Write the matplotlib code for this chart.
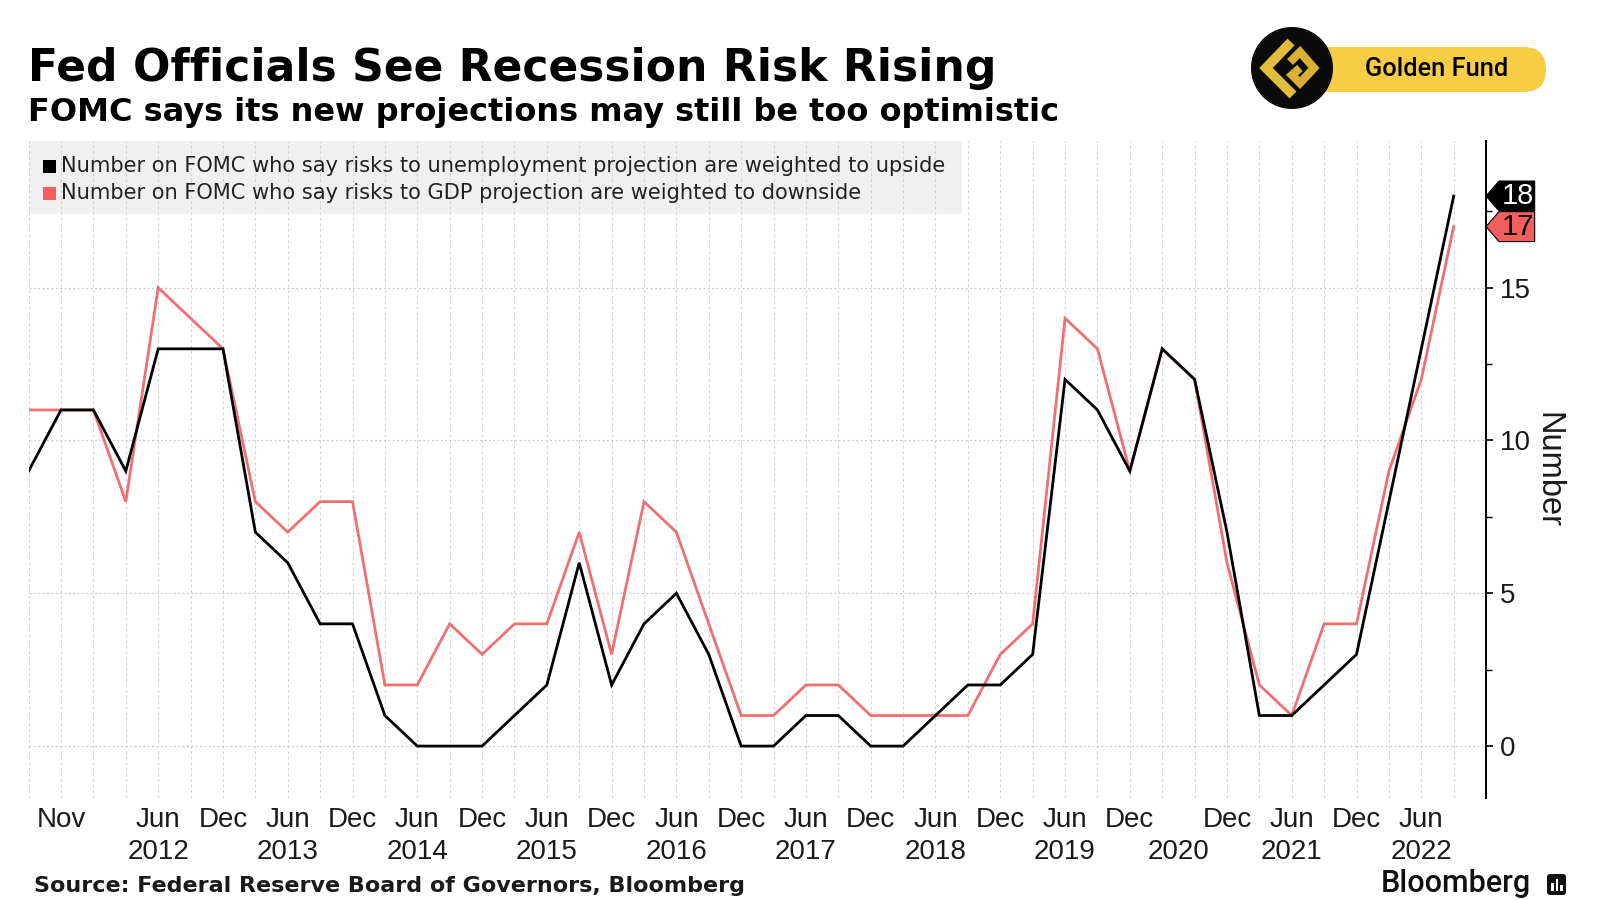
import matplotlib.pyplot as plt
from matplotlib.patches import Rectangle, Circle, FancyBboxPatch, Polygon
from matplotlib.ticker import FixedLocator

# FOMC projection meetings, Jun 2011 .. Sep 2022 (no projections in Mar 2020)
unemp_up = [9, 11, 11, 9, 13, 13, 13, 7, 6, 4,
            4, 1, 0, 0, 0, 1, 2, 6, 2, 4,
            5, 3, 0, 0, 1, 1, 0, 0, 1, 2,
            2, 3, 12, 11, 9, 13, 12, 7, 1, 1,
            2, 3, 8, 13, 18]
gdp_down = [11, 11, 11, 8, 15, 14, 13, 8, 7, 8,
            8, 2, 2, 4, 3, 4, 4, 7, 3, 8,
            7, 4, 1, 1, 2, 2, 1, 1, 1, 1,
            3, 4, 14, 13, 9, 13, 12, 6, 2, 1,
            4, 4, 9, 12, 17]

month_pos = [1, 4, 6, 8, 10, 12, 14, 16, 18, 20, 22, 24, 26, 28, 30, 32, 34, 37, 39, 41, 43]
month_lab = ['Nov', 'Jun', 'Dec', 'Jun', 'Dec', 'Jun', 'Dec', 'Jun', 'Dec', 'Jun', 'Dec',
             'Jun', 'Dec', 'Jun', 'Dec', 'Jun', 'Dec', 'Dec', 'Jun', 'Dec', 'Jun']
year_pos = [4, 8, 12, 16, 20, 24, 28, 32, 35.5, 39, 43]
year_lab = ['2012', '2013', '2014', '2015', '2016', '2017', '2018', '2019', '2020', '2021', '2022']

legend_lab = ['Number on FOMC who say risks to unemployment projection are weighted to upside',
              'Number on FOMC who say risks to GDP projection are weighted to downside']

BLACK = '#000000'
RED = '#f07070'
TICKF = ['Liberation Sans', 'DejaVu Sans']

fig = plt.figure(figsize=(16, 9), dpi=100)
fig.patch.set_facecolor('white')

# main chart
ax = fig.add_axes([0.0179, 0.1133, 0.9109, 0.73])
x = list(range(len(unemp_up)))
ax.set_xlim(0, 45)
ax.set_ylim(-1.7, 19.8)

# legend background
ax.add_patch(Rectangle((0, 0.889), 0.6406, 0.111, transform=ax.transAxes,
                       facecolor='#f0f0f0', edgecolor='none', zorder=0.2))

for i in x:
    ax.axvline(i, color='#d2d2d2', lw=0.8, ls=(0, (2.5, 2.5)), zorder=1)
for v in [0, 5, 10, 15]:
    ax.axhline(v, color='#c8c8c8', lw=0.9, ls=(0, (1.5, 2)), zorder=1)

ax.plot(x, gdp_down, color=RED, lw=2.0, zorder=3, solid_joinstyle='miter')
ax.plot(x, unemp_up, color=BLACK, lw=2.0, zorder=4, solid_joinstyle='miter')

for s in ['left', 'top', 'bottom']:
    ax.spines[s].set_visible(False)
ax.spines['right'].set_color('black')
ax.spines['right'].set_linewidth(1.4)

ax.yaxis.tick_right()
ax.set_yticks([0, 5, 10, 15])
ax.yaxis.set_minor_locator(FixedLocator([2.5, 7.5, 12.5, 17.5]))
ax.tick_params(axis='y', which='major', length=5, width=1.2, pad=5, labelsize=20,
               labelcolor='#1a1a1a')
ax.tick_params(axis='y', which='minor', length=4, width=1.0)
for lab in ax.get_yticklabels():
    lab.set_family(TICKF)
ax.set_xticks([])

ax.yaxis.set_label_position('right')
ax.set_ylabel('Number', rotation=270, fontsize=23.5, labelpad=23, family=TICKF,
              color='#1a1a1a')

xt = ax.get_xaxis_transform()
for p, l in zip(month_pos, month_lab):
    ax.text(p, -0.034, l, transform=xt, ha='center', va='center', fontsize=20,
            family=TICKF, color='#1a1a1a')
for p, l in zip(year_pos, year_lab):
    ax.text(p, -0.082, l, transform=xt, ha='center', va='center', fontsize=20,
            family=TICKF, color='#1a1a1a')

# end-value tags
for val, fc, tc in [(unemp_up[-1], BLACK, 'white'), (gdp_down[-1], '#f55e5e', 'black')]:
    h = 0.49
    verts = [(45.0, val), (45.4, val + h), (46.5, val + h), (46.5, val - h), (45.4, val - h)]
    ax.add_patch(Polygon(verts, closed=True, facecolor=fc, edgecolor='black', lw=0.8,
                         clip_on=False, zorder=5))
    ax.text(45.97, val, str(val), ha='center', va='center', fontsize=21, color=tc,
            family=TICKF, clip_on=False, zorder=6)

# overlay in pixel coordinates for header / legend / footer
ov = fig.add_axes([0, 0, 1, 1], zorder=10)
ov.set_xlim(0, 1600)
ov.set_ylim(900, 0)
ov.axis('off')
ov.patch.set_visible(False)

ov.text(28, 68, 'Fed Officials See Recession Risk Rising', fontsize=31.7, weight='bold',
        va='center', ha='left', color='black')
ov.text(28, 112, 'FOMC says its new projections may still be too optimistic', fontsize=23,
        weight='bold', va='center', ha='left', color='black')

for yy, c, l in [(166, BLACK, legend_lab[0]), (193, '#f55e5e', legend_lab[1])]:
    ov.add_patch(Rectangle((43, yy - 6.5), 13, 13, facecolor=c, edgecolor='none'))
    ov.text(61, yy, l, fontsize=15.1, va='center', ha='left', color='#222222')

# Golden Fund badge
ov.add_patch(FancyBboxPatch((1280, 47), 266, 45, boxstyle='round,pad=0,rounding_size=22.5',
                            facecolor='#f6cd45', edgecolor='none'))
ov.add_patch(Circle((1292, 68), 41, facecolor='#0a0a0a', edgecolor='none'))
ov.plot([1291, 1266, 1293], [42, 68, 95], color='#e2bc3b', lw=7, solid_capstyle='butt',
        solid_joinstyle='miter')
ov.plot([1290, 1300, 1314, 1300, 1292, 1300], [62, 52, 68, 83, 75, 68], color='#d9b033',
        lw=6, solid_capstyle='butt', solid_joinstyle='miter')
ov.text(1437, 69, 'Golden Fund', fontsize=18.3, family='Roboto', weight='medium',
        ha='center', va='center', color='black')

# footer
ov.text(34, 886, 'Source: Federal Reserve Board of Governors, Bloomberg', fontsize=16,
        weight='bold', va='center', ha='left', color='#1a1a1a')
ov.text(1531, 884, 'Bloomberg', fontsize=22, family='Roboto', weight='medium',
        va='center', ha='right', color='#111111')
ov.add_patch(FancyBboxPatch((1547, 874), 19, 21, boxstyle='round,pad=0,rounding_size=3',
                            facecolor='#111111', edgecolor='none'))
for bx, bh in [(1551, 8), (1555.5, 12), (1560, 6)]:
    ov.add_patch(Rectangle((bx, 891 - bh), 2.6, bh, facecolor='white', edgecolor='none'))

fig.savefig('out.png', dpi=100)
